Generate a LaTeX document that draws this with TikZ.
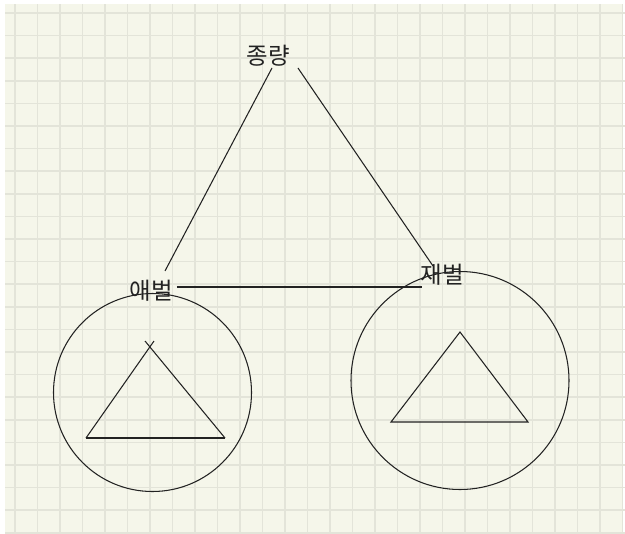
\documentclass[tikz,border=0pt]{standalone}
\usepackage{fontspec}
\newfontfamily\hangul{Noto Sans CJK KR}
\definecolor{paper}{HTML}{F5F6EA}
\definecolor{gridline}{HTML}{E3E4D9}
\definecolor{ink}{HTML}{222222}
\tikzset{
  word/.style={font=\hangul\fontsize{20}{22}\selectfont, text=ink, inner sep=1pt},
  pen/.style={ink, line width=0.9pt}
}
\begin{document}
\begin{tikzpicture}[x=0.03cm,y=-0.03cm]
\useasboundingbox (0,0) rectangle (625,533);
\fill[white] (0,0) rectangle (625,533);
\fill[paper] (5,4) rectangle (622,533);

\begin{scope}
\clip (5,4) rectangle (625,533);
\foreach \gx in {0,...,27}
  \draw[gridline, line width=1.4pt] (15+22.5*\gx,4) -- (15+22.5*\gx,533);
\foreach \gy in {0,...,23}
  \draw[gridline, line width=1.4pt] (5,13+22.6*\gy) -- (625,13+22.6*\gy);
\end{scope}

\node[word] (zong) at (268,56) {종량};
\node[word] (ae) at (151,291) {애벌};
\node[word] (jae) at (442,275) {재벌};

\draw[pen] ([shift={(4,0)}]zong.south) -- ([shift={(14,-8)}]ae.north);
\draw[pen] ([shift={(7,0)}]zong.south east) -- ([shift={(-9,3)}]jae.north);
\draw[pen] ([shift={(3,-4)}]ae.east) -- ([shift={(3,-4)}]ae.east -| jae.west);

\draw[pen] (152.5,392.5) circle[radius=99];
\draw[pen] (86,438) -- (225,438);
\draw[pen] (86,438) -- (154,341);
\draw[pen] (225,438) -- (145,341);

\draw[pen] (460,380.5) circle[radius=109];
\draw[pen] (460,332) -- (391,422) -- (528,422) -- cycle;
\end{tikzpicture}
\end{document}
